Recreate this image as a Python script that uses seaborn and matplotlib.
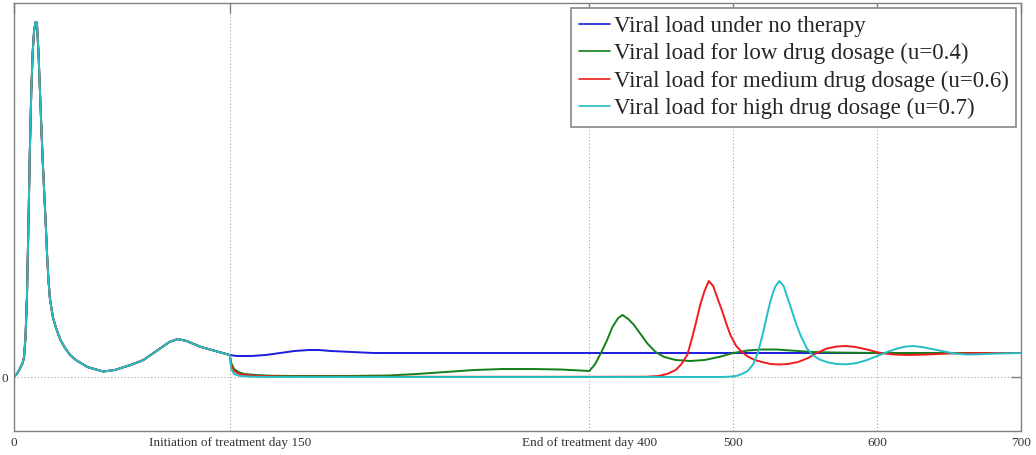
import numpy as np
import pandas as pd
import matplotlib
matplotlib.use("Agg")
import matplotlib.pyplot as plt
import seaborn as sns

# ---- data (arbitrary units, 0 = no virus) ----
t_pre = [0, 2, 4, 6, 7, 8, 9, 10, 11, 12, 13, 14, 15, 15.5, 16, 17, 18, 19, 20, 21, 22, 23, 24,
         25, 27, 29, 32, 35, 39, 43, 51, 62, 70, 81, 90, 100, 108, 114, 120, 130, 140, 150]
v_pre = [0, 3, 8, 14, 20, 40, 80, 150, 225, 285, 325, 347, 355, 355, 352, 325, 288, 250, 215, 185, 155, 122, 96,
         78, 60, 50, 38, 30, 22, 17, 10, 5.5, 7, 12, 17, 27, 35, 38, 36, 30, 26, 22]

t_blue = [155, 165, 175, 185, 195, 205, 212, 220, 235, 250, 270, 300, 400, 500, 600, 700]
v_blue = [21, 21, 22, 24, 26, 27, 27, 26, 25, 24, 24, 24, 24, 24, 24, 24]

t_green = [151, 153, 156, 160, 168, 180, 200, 230, 260, 280, 300, 320, 340, 360, 380,
           400, 404, 408, 412, 416, 420, 423, 427, 431, 435, 440, 446, 452, 460, 470,
           480, 490, 500, 510, 520, 530, 540, 555, 570, 600, 700]
v_green = [14, 8, 5, 3, 2, 1.2, 1, 1, 1.5, 3, 5, 7, 8, 8, 7.5,
           6, 13, 24, 36, 50, 59, 62, 58, 52, 44, 34, 25, 20, 17, 16,
           17, 20, 24, 26.5, 27.5, 27.5, 26.5, 25, 24.5, 24, 24]

t_red = [151, 153, 156, 160, 170, 185, 200, 300, 400, 440, 448, 454, 460, 464, 468,
         471, 474, 477, 480, 483, 486, 489, 492, 495, 498, 502, 506, 510, 515, 520,
         526, 532, 538, 545, 552, 558, 565, 572, 578, 585, 593, 602, 612, 622, 635,
         650, 670, 700]
v_red = [12, 6, 3.5, 2, 1, 0.5, 0.3, 0.2, 0.2, 0.3, 1, 3, 7, 13, 22,
         37, 54, 72, 86, 96, 91, 79, 67, 54, 42, 31, 25, 20.5, 17, 15,
         13, 12.5, 13, 15, 19, 24, 28.5, 30.5, 31, 30, 27.5, 24, 22.5, 22, 22.5,
         23.5, 24, 24]

t_cyan = [151, 153, 157, 165, 180, 300, 400, 490, 497, 502, 506, 510, 514, 517, 520,
          523, 526, 529, 532, 535, 538, 541, 544, 547, 551, 555, 560, 566, 572, 579,
          586, 593, 600, 607, 614, 620, 625, 631, 638, 645, 653, 662, 670, 685, 700]
v_cyan = [8, 3, 1, 0.3, 0, 0, 0, 0, 0.3, 1, 3, 6, 13, 24, 40,
          59, 77, 90, 96, 91, 78, 65, 52, 41, 29, 22, 17.5, 14.5, 13, 12.7,
          14, 17, 21, 25, 28.5, 30.5, 31, 30, 28, 26, 23.7, 22.5, 22.7, 23.5, 24]

labels = ["Viral load under no therapy",
          "Viral load for low drug dosage (u=0.4)",
          "Viral load for medium drug dosage (u=0.6)",
          "Viral load for high drug dosage (u=0.7)"]
colors = ["#1c1cdc", "#14801a", "#ee1c1c", "#22c0c4"]

x_ticks = [0, 150, 400, 500, 600, 700]
x_ticklabels = ["0", "Initiation of treatment day 150", "End of treatment day 400", "500", "600", "700"]

# ---- long-form table ----
frames = []
for lab, tt, vv in zip(labels, [t_blue, t_green, t_red, t_cyan], [v_blue, v_green, v_red, v_cyan]):
    frames.append(pd.DataFrame({"day": list(t_pre) + list(tt),
                                "load": list(v_pre) + list(vv),
                                "series": lab}))
df = pd.concat(frames, ignore_index=True)

sns.set_theme(style="white")
plt.rcParams["font.family"] = ["Liberation Serif", "DejaVu Serif"]

fig = plt.figure(figsize=(10.36, 4.55), dpi=100)
ax = fig.add_axes([14 / 1036, 1 - 431 / 455, (1021 - 14) / 1036, (431 - 3) / 455])

sns.lineplot(data=df, x="day", y="load", hue="series", hue_order=labels,
             palette=dict(zip(labels, colors)), estimator=None, sort=False,
             linewidth=1.4, ax=ax, legend=True)

ax.set_xlim(0, 700)
ax.set_ylim(-54, 374)
ax.set_xticks(x_ticks)
ax.set_xticklabels(x_ticklabels)
ax.set_yticks([0])
ax.set_yticklabels(["0"])
ax.set_xlabel("")
ax.set_ylabel("")

ax.grid(True, linestyle=(0, (1, 2)), color="#a8a8a8", linewidth=0.8)
ax.set_axisbelow(True)
ax.tick_params(direction="in", length=7, width=1, color="#808080", top=True, right=True,
               labelsize=9.5, labelcolor="#333333", pad=4)
for s in ax.spines.values():
    s.set_color("#808080")
    s.set_linewidth(1.0)

handles, labs = ax.get_legend_handles_labels()
leg = ax.legend(handles, labs, loc="upper right", bbox_to_anchor=(1.0, 1.0),
                fontsize=16.5, frameon=True, fancybox=False, framealpha=1,
                edgecolor="#888888", handlelength=1.35, handletextpad=0.15,
                labelspacing=0.28, borderpad=0.35, borderaxespad=0.2)
leg.get_frame().set_linewidth(1.2)
for ln in leg.get_lines():
    ln.set_linewidth(1.2)

fig.savefig("out.png", dpi=100)
